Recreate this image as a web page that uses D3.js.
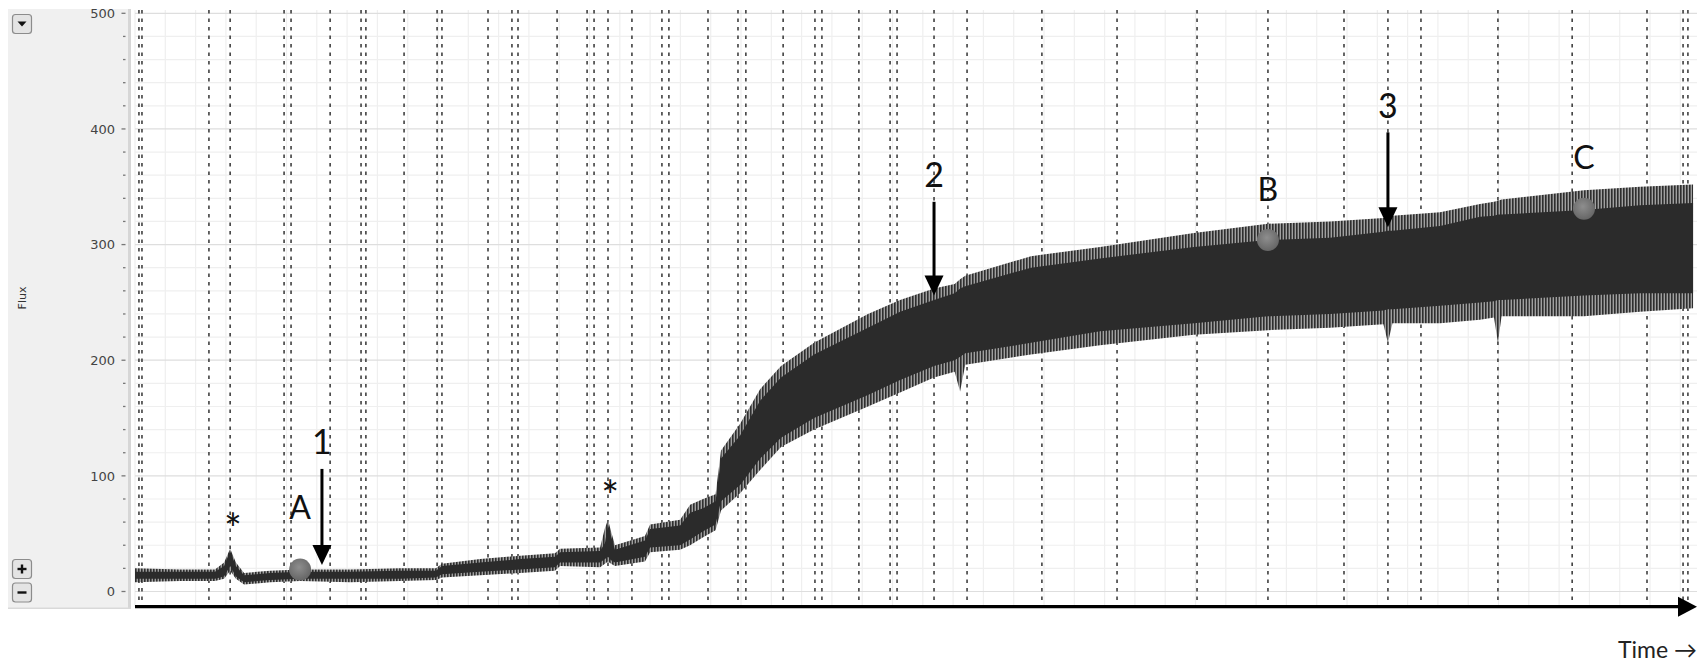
<!DOCTYPE html>
<html><head><meta charset="utf-8">
<script src="https://cdn.jsdelivr.net/npm/d3@7"></script>
<style>html,body{margin:0;padding:0;background:#fff;} svg{display:block;}</style>
</head><body>
<svg id="c" width="1702" height="667"></svg>
<script>
// ---------- data ----------
const yTicks = [0, 100, 200, 300, 400, 500];
const yLabel = "Flux";
const xLabel = "Time \u2192";
// vertical dotted event lines (minutes)
const eventTimes = [0.13, 0.23, 2.44, 3.14, 4.92, 5.15, 6.44, 7.46, 7.62, 8.88, 9.97, 10.13,
  11.65, 12.44, 12.64, 13.93, 14.92, 15.15, 15.61, 16.40, 17.39, 17.62, 18.91, 19.90, 20.16,
  21.39, 22.44, 22.67, 23.89, 24.92, 25.15, 26.37, 27.46, 29.93, 32.41, 35.05, 37.39, 39.90,
  41.35, 42.44, 44.98, 47.43, 49.90, 51.09, 51.25];
// flux signal envelope
const sigTime   = [0, 1.49, 2.64, 2.94, 3.14, 3.33, 3.60, 4.46, 5.45, 7.10, 8.75, 9.93, 10.13, 11.39, 12.71, 13.86, 14.03, 15.35, 15.51, 15.61, 15.71, 15.84, 16.83, 17.00, 17.99, 18.32, 18.75, 19.16, 19.34, 19.97, 20.63, 21.32, 22.41, 24.19, 25.25, 26.37, 27.05, 27.23, 27.40, 29.57, 31.85, 34.95, 37.39, 39.44, 41.20, 41.35, 41.50, 43.07, 44.39, 44.85, 44.98, 45.10, 47.82, 49.67, 51.42];
const coreLow   = [11, 11, 11, 13, 22, 13, 8, 10, 11, 11, 11, 12, 15, 17, 19, 21, 25, 25, 28, 30, 27, 25, 30, 38, 40, 45, 52, 58, 78, 92, 115, 133, 150, 170, 183, 195, 200, 203, 206, 215, 225, 232, 238, 240, 243, 244, 244, 247, 250, 251, 252, 252, 256, 258, 258];
const coreHigh  = [17, 17, 17, 22, 35, 22, 14, 16, 17, 17, 18, 18, 22, 25, 28, 30, 34, 35, 42, 58, 48, 36, 44, 54, 57, 68, 72, 78, 115, 135, 165, 185, 205, 228, 242, 252, 258, 262, 264, 280, 288, 298, 304, 306, 311, 312, 312, 316, 324, 325, 326, 326, 330, 334, 336];
const spikeLow  = [8, 9, 9, 11, 18, 11, 6, 8, 9, 8, 9, 10, 12, 14, 16, 18, 22, 21, 24, 26, 24, 22, 26, 34, 36, 40, 47, 53, 70, 85, 105, 125, 140, 160, 172, 185, 190, 173, 196, 205, 213, 222, 226, 228, 231, 215, 232, 232, 235, 237, 215, 238, 238, 242, 245];
const spikeHigh = [20, 19, 19, 25, 37, 25, 16, 18, 19, 19, 20, 20, 24, 28, 31, 33, 37, 38, 55, 62, 52, 40, 48, 58, 62, 75, 80, 84, 122, 145, 175, 195, 215, 240, 252, 262, 266, 270, 273, 290, 298, 310, 318, 320, 323, 325, 325, 328, 335, 337, 338, 339, 347, 350, 352];
// labelled points
const markerNames = ["A", "B", "C"];
const markerTime = [5.45, 37.39, 47.82];
const markerValue = [19, 304, 331];
const markerLabelValue = [73, 348, 375];
// numbered arrows
const arrowNames = ["1", "2", "3"];
const arrowTime = [6.17, 26.37, 41.35];
const arrowTip = [23, 256, 315];
const arrowTail = [106, 337, 397];
// asterisks
const starTime = [3.23, 15.68];
const starValue = [62, 90];

// ---------- drawing ----------
const svg = d3.select("#c");
const x = d3.scaleLinear().domain([0, 51.55]).range([135, 1697]);
const y = d3.scaleLinear().domain([0, 500]).range([591.5, 13.3]);
const plotTop = 10, axisY = 606.7;

const defs = svg.append("defs");
const grad = defs.append("radialGradient").attr("id", "dot").attr("cx", "45%").attr("cy", "40%").attr("r", "60%");
grad.append("stop").attr("offset", "0%").attr("stop-color", "#8e8e8e");
grad.append("stop").attr("offset", "100%").attr("stop-color", "#666");
const pat = defs.append("pattern").attr("id", "spk").attr("patternUnits", "userSpaceOnUse")
  .attr("width", 3).attr("height", 10);
pat.append("rect").attr("width", 3).attr("height", 10).attr("fill", "#a0a0a0");
pat.append("rect").attr("width", 1.6).attr("height", 10).attr("fill", "#2e2e2e");
defs.append("clipPath").attr("id", "panelClip").append("rect")
  .attr("x", 8).attr("y", 9).attr("width", 123).attr("height", 600);

// left panel
const panel = svg.append("g").attr("clip-path", "url(#panelClip)");
panel.append("rect").attr("x", 8).attr("y", 9).attr("width", 123).attr("height", 600).attr("fill", "#f0f0f0");
panel.append("line").attr("x1", 129.5).attr("x2", 129.5).attr("y1", 9).attr("y2", 609)
  .attr("stroke", "#d6d6d6").attr("stroke-width", 3);
panel.append("line").attr("x1", 8).attr("x2", 131).attr("y1", 608.5).attr("y2", 608.5)
  .attr("stroke", "#d9d9d9").attr("stroke-width", 2);

const minor = d3.range(0, 501, 20);
panel.selectAll("line.tk").data(minor).join("line").attr("class", "tk")
  .attr("x1", d => d % 100 === 0 ? 121.5 : 123).attr("x2", 125.5)
  .attr("y1", d => y(d)).attr("y2", d => y(d))
  .attr("stroke", "#777").attr("stroke-width", 1.3);
panel.selectAll("text.tl").data(yTicks).join("text").attr("class", "tl")
  .attr("x", 115).attr("y", d => y(d)).attr("dy", "0.36em")
  .attr("text-anchor", "end").attr("font-family", "DejaVu Sans").attr("font-size", 13)
  .attr("fill", "#444").text(d => d);
panel.append("text").attr("transform", "translate(22,298) rotate(-90)")
  .attr("text-anchor", "middle").attr("dy", "0.35em")
  .attr("font-family", "DejaVu Sans").attr("font-size", 11).attr("fill", "#333").text(yLabel);

// buttons
function button(yTop, kind) {
  const g = panel.append("g");
  g.append("rect").attr("x", 12.5).attr("y", yTop).attr("width", 19).attr("height", 19).attr("rx", 3)
    .attr("fill", "#e4e4e4").attr("stroke", "#8c8c8c").attr("stroke-width", 1.2);
  const cx = 22, cy = yTop + 9.5;
  if (kind === "down") {
    g.append("path").attr("d", `M${cx-4.5},${cy-2.5}L${cx+4.5},${cy-2.5}L${cx},${cy+2.5}Z`).attr("fill", "#111");
  } else {
    g.append("line").attr("x1", cx - 4.5).attr("x2", cx + 4.5).attr("y1", cy).attr("y2", cy)
      .attr("stroke", "#111").attr("stroke-width", 2.4);
    if (kind === "plus") g.append("line").attr("x1", cx).attr("x2", cx).attr("y1", cy - 4.5).attr("y2", cy + 4.5)
      .attr("stroke", "#111").attr("stroke-width", 2.4);
  }
}
button(14.5, "down");
button(559.5, "plus");
button(583, "minus");

// grid
const plot = svg.append("g");
plot.selectAll("line.vg").data(d3.range(0, 52, 1)).join("line").attr("class", "vg")
  .attr("x1", d => x(d)).attr("x2", d => x(d)).attr("y1", plotTop).attr("y2", axisY)
  .attr("stroke", "#efefef").attr("stroke-width", 1.2);
plot.selectAll("line.hg").data(minor).join("line").attr("class", "hg")
  .attr("x1", x(0)).attr("x2", x.range()[1]).attr("y1", d => y(d)).attr("y2", d => y(d))
  .attr("stroke", d => d % 100 === 0 ? "#dedede" : "#efefef").attr("stroke-width", 1.2);

// event lines
plot.selectAll("line.ev").data(eventTimes).join("line").attr("class", "ev")
  .attr("x1", d => x(d)).attr("x2", d => x(d)).attr("y1", plotTop).attr("y2", axisY)
  .attr("stroke", "#404040").attr("stroke-width", 1.6).attr("stroke-dasharray", "3.5,5");

// signal
const sig = sigTime.map((t, i) => ({t, cl: coreLow[i], ch: coreHigh[i], sl: spikeLow[i], sh: spikeHigh[i]}));
plot.append("path").datum(sig)
  .attr("d", d3.area().x(d => x(d.t)).y0(d => y(d.sl)).y1(d => y(d.sh)))
  .attr("fill", "url(#spk)");
plot.append("path").datum(sig)
  .attr("d", d3.area().x(d => x(d.t)).y0(d => y(d.cl)).y1(d => y(d.ch)))
  .attr("fill", "#2b2b2b");

// x axis arrow
plot.append("line").attr("x1", x(0)).attr("x2", x.range()[1] - 18).attr("y1", axisY).attr("y2", axisY)
  .attr("stroke", "#000").attr("stroke-width", 3.2);
plot.append("path").attr("d", `M${x.range()[1]-19},${axisY-10}L${x.range()[1]},${axisY}L${x.range()[1]-19},${axisY+10}Z`)
  .attr("fill", "#000");
svg.append("text").attr("x", 1697).attr("y", 658).attr("text-anchor", "end")
  .attr("font-family", "Lato").attr("font-size", 23).attr("fill", "#222").text(xLabel);

const lab = svg.append("g").attr("font-family", "Lato").attr("fill", "#111").attr("text-anchor", "middle");

// markers
markerNames.forEach((n, i) => {
  plot.append("circle").attr("cx", x(markerTime[i])).attr("cy", y(markerValue[i])).attr("r", 11)
    .attr("fill", "url(#dot)");
  lab.append("text").attr("x", x(markerTime[i])).attr("y", y(markerLabelValue[i])).attr("dy", "0.36em")
    .attr("font-size", 32).text(n);
});

// arrows
arrowNames.forEach((n, i) => {
  const ax = x(arrowTime[i]), yt = y(arrowTip[i]), yl = y(arrowTail[i]);
  plot.append("line").attr("x1", ax).attr("x2", ax).attr("y1", yl).attr("y2", yt - 16)
    .attr("stroke", "#000").attr("stroke-width", 3);
  plot.append("path").attr("d", `M${ax-9.5},${yt-20}L${ax+9.5},${yt-20}L${ax},${yt}Z`).attr("fill", "#000");
  lab.append("text").attr("x", ax).attr("y", yl - 27).attr("dy", "0.36em")
    .attr("font-size", 34).text(n);
});

// asterisks
starTime.forEach((t, i) => {
  lab.append("text").attr("x", x(t)).attr("y", y(starValue[i]) + 24)
    .attr("font-size", 42).text("*");
});
</script>
</body></html>
